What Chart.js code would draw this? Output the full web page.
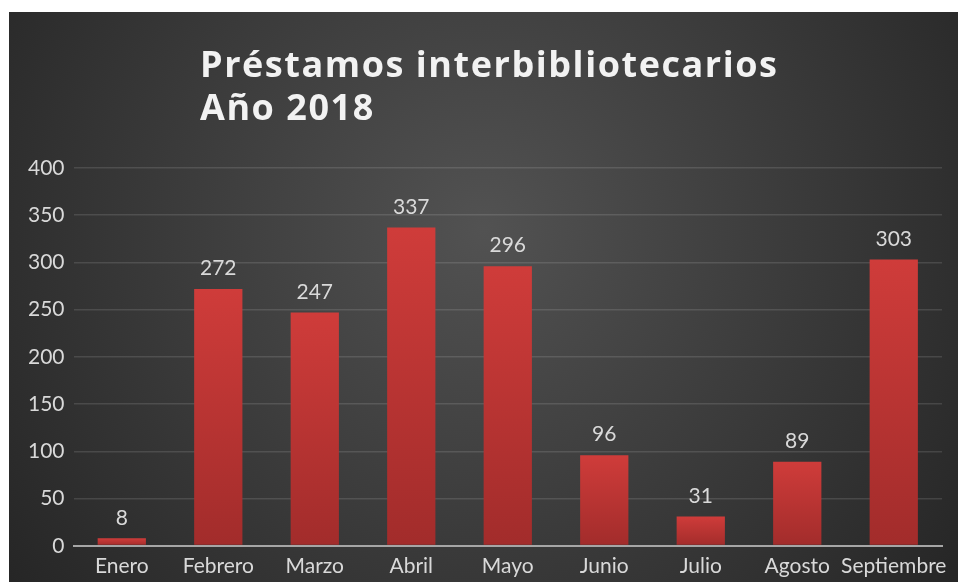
<!DOCTYPE html>
<html lang="es">
<head>
  <meta charset="UTF-8" />
  <title>Préstamos interbibliotecarios</title>
  <script src="https://cdn.jsdelivr.net/npm/chart.js"></script>
  <style>
    html, body { margin: 0; padding: 0; background: #fff; }
    #wrap { position: absolute; left: 9px; top: 12px; width: 949px; height: 570px; }
  </style>
</head>
<body>
  <div id="wrap"><canvas id="barChart"></canvas></div>

  <script>
    // Datos
    const meses = ['Enero', 'Febrero', 'Marzo', 'Abril', 'Mayo', 'Junio', 'Julio', 'Agosto', 'Septiembre'];
    const prestamos = [8, 272, 247, 337, 296, 96, 31, 89, 303];
    const tituloLineas = ['Préstamos interbibliotecarios', 'Año 2018'];

    // Fondo degradado radial
    const fondo = {
      id: 'fondo',
      beforeDraw(chart) {
        const ctx = chart.ctx;
        const w = chart.width, h = chart.height;
        const g = ctx.createRadialGradient(w * 0.5, h * 0.38, 0, w * 0.5, h * 0.38, w * 0.62);
        g.addColorStop(0, '#525252');
        g.addColorStop(1, '#262626');
        ctx.save();
        ctx.fillStyle = g;
        ctx.fillRect(0, 0, w, h);
        ctx.restore();
      }
    };

    // Título alineado a la izquierda, con espaciado ajustado al ancho del original
    const titulo = {
      id: 'titulo',
      afterDraw(chart) {
        const ctx = chart.ctx;
        ctx.save();
        ctx.fillStyle = '#f2f2f2';
        ctx.font = 'bold 36px "Open Sans", sans-serif';
        ctx.letterSpacing = '0px';
        const ancho = ctx.measureText(tituloLineas[0]).width;
        const esp = Math.max(0, (577 - ancho) / (tituloLineas[0].length - 1));
        ctx.letterSpacing = esp + 'px';
        ctx.textBaseline = 'alphabetic';
        ctx.fillText(tituloLineas[0], 191, 65);
        ctx.fillText(tituloLineas[1], 191, 108);
        ctx.restore();
      }
    };

    // Etiquetas de valor encima de cada barra
    const etiquetas = {
      id: 'etiquetas',
      afterDatasetsDraw(chart) {
        const ctx = chart.ctx;
        const meta = chart.getDatasetMeta(0);
        ctx.save();
        ctx.fillStyle = '#d9d9d9';
        ctx.font = '21px Lato';
        ctx.textAlign = 'center';
        ctx.textBaseline = 'bottom';
        meta.data.forEach((bar, i) => {
          ctx.fillText(prestamos[i], bar.x, bar.y - 10);
        });
        ctx.restore();
      }
    };

    new Chart(document.getElementById('barChart'), {
      type: 'bar',
      data: {
        labels: meses,
        datasets: [{
          data: prestamos,
          backgroundColor(context) {
            const chart = context.chart;
            const y = chart.scales.y;
            if (!chart.chartArea || !y) return '#c0392b';
            const top = y.getPixelForValue(prestamos[context.dataIndex]);
            const bottom = y.getPixelForValue(0);
            const g = chart.ctx.createLinearGradient(0, top, 0, bottom);
            g.addColorStop(0, '#cf3c3a');
            g.addColorStop(1, '#a22c2b');
            return g;
          },
          barPercentage: 0.5,
          categoryPercentage: 1
        }]
      },
      options: {
        responsive: true,
        maintainAspectRatio: false,
        animation: false,
        layout: { padding: { left: 10, right: 16, top: 156, bottom: -5 } },
        plugins: {
          legend: { display: false },
          title: { display: false },
          tooltip: { enabled: false }
        },
        scales: {
          x: {
            grid: { display: false, drawTicks: false },
            border: { color: '#a6a6a6', width: 2 },
            ticks: { color: '#d9d9d9', font: { family: 'Lato', size: 21 }, padding: 8, maxRotation: 0, autoSkip: false }
          },
          y: {
            min: 0,
            max: 400,
            ticks: { stepSize: 50, color: '#d9d9d9', font: { family: 'Lato', size: 21 }, padding: 9 },
            grid: {
              drawTicks: false,
              color: (c) => c.tick.value === 0 ? '#a6a6a6' : 'rgba(255,255,255,0.12)',
              lineWidth: (c) => c.tick.value === 0 ? 2 : 1.5
            },
            border: { display: false }
          }
        }
      },
      plugins: [fondo, titulo, etiquetas]
    });
  </script>
</body>
</html>
